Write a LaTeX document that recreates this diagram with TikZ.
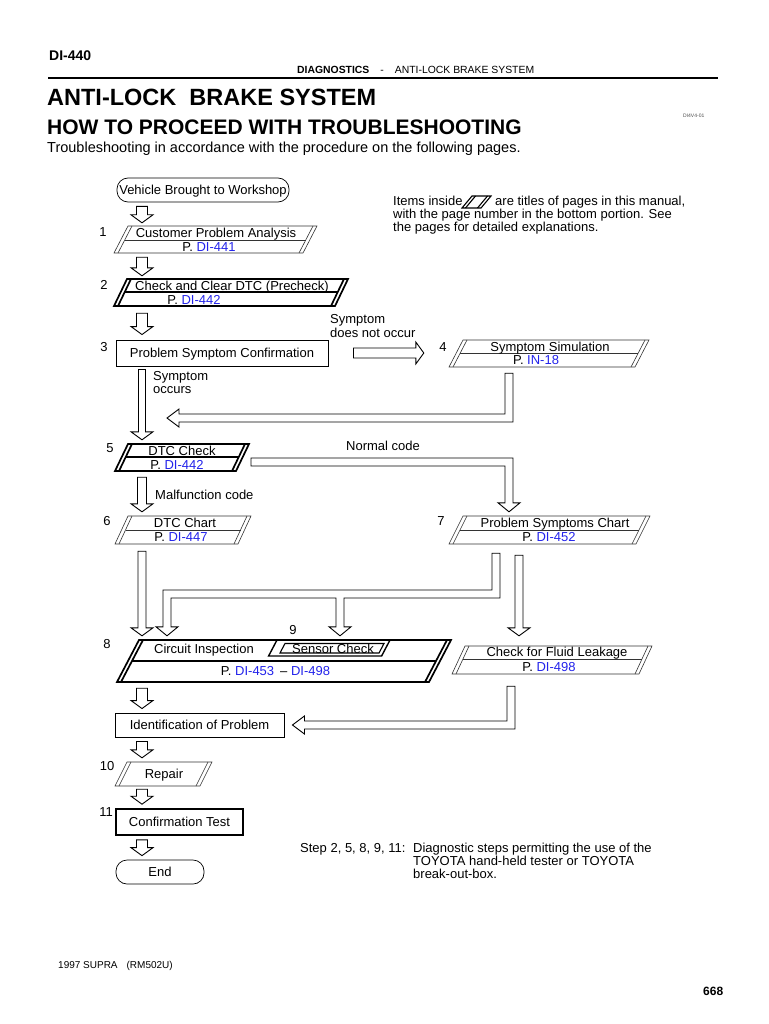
\documentclass[tikz,border=0pt]{standalone}
\usepackage{fontspec}
\setmainfont{Liberation Sans}
\usetikzlibrary{calc}
\definecolor{lnk}{RGB}{35,35,235}
\newcommand\fsz[1]{\fontsize{#1}{#1}\selectfont}
\newcommand\lk[1]{\textcolor{lnk}{#1}}
\def\dd{4}
% parallelogram page box: name, TLx, TRx, top y, bottom y, slant, style, divider y (0 = none)
\newcommand\pgbox[8]{%
 \node[inner sep=0pt, minimum width={(#3-#2+#6)*1pt}, minimum height={(#5-#4)*1pt}] (#1) at ({(#2+#3-#6)/2},{(#4+#5)/2}) {};
 \draw[#7] (#2,#4) -- (#3,#4) -- ({#3-#6},#5) -- ({#2-#6},#5) -- cycle;
 \draw[#7] ({#2+\dd},#4) -- ({#2-#6+\dd},#5);
 \draw[#7] ({#3-\dd},#4) -- ({#3-#6-\dd},#5);
 \ifnum#8>0\relax \draw[#7] ({#2+\dd-#6*(#8-#4)/(#5-#4)},#8) -- ({#3-\dd-#6*(#8-#4)/(#5-#4)},#8);\fi
}
% block arrow down: start, tip, shaft half, head half
\newcommand\blkd[4]{\draw[blk] let \p1=#1, \p2=#2 in (\x1-#3,\y1) -- (\x1-#3,\y2+8pt) -- (\x1-#4,\y2+8pt) -- (\x1,\y2) -- (\x1+#4,\y2+8pt) -- (\x1+#3,\y2+8pt) -- (\x1+#3,\y1) -- cycle;}
% block arrow right
\newcommand\blkr[2]{\draw[blk] let \p1=#1, \p2=#2 in (\x1,\y1+5pt) -- (\x2-8pt,\y1+5pt) -- (\x2-8pt,\y1+11pt) -- (\x2,\y1) -- (\x2-8pt,\y1-11pt) -- (\x2-8pt,\y1-5pt) -- (\x1,\y1-5pt) -- cycle;}
% down then left
\newcommand\blkLl[3]{\draw[blk] let \p1=#1, \p2=#2, \p3=#3 in (\x1-4pt,\y1) -- (\x1+4pt,\y1) -- (\x1+4pt,\y2-4pt) -- (\x3+12pt,\y2-4pt) -- (\x3+12pt,\y2-9pt) -- (\x3,\y2) -- (\x3+12pt,\y2+9pt) -- (\x3+12pt,\y2+4pt) -- (\x1-4pt,\y2+4pt) -- cycle;}
% right then down
\newcommand\blkLd[3]{\draw[blk] let \p1=#1, \p2=#2, \p3=#3 in (\x1,\y1+4pt) -- (\x2+4pt,\y1+4pt) -- (\x2+4pt,\y3+9pt) -- (\x2+11pt,\y3+9pt) -- (\x2,\y3) -- (\x2-11pt,\y3+9pt) -- (\x2-4pt,\y3+9pt) -- (\x2-4pt,\y1-4pt) -- (\x1,\y1-4pt) -- cycle;}
\begin{document}
\begin{tikzpicture}[x=1pt,y=-1pt,
  every node/.style={inner sep=0pt,font=\fsz{13},text height=9.3pt,text depth=0pt},
  thinln/.style={line width=0.6pt,draw=black!80},
  boldln/.style={line width=1.7pt,draw=black},
  blk/.style={draw=black,line width=0.9pt,fill=white,line join=miter},
  startbox/.style={draw,line width=0.7pt,rounded corners=11pt,minimum height=24pt},
  rectbox/.style={draw,line width=0.9pt},
  hd/.style={anchor=base west,text height=,text depth=}]
\fill[white] (0,0) rectangle (768,1024);
\useasboundingbox (0,0) rectangle (768,1024);
% ---------- header
\node[hd,font=\bfseries\fsz{14}] (pgno) at (49,61) {DI-440};
\node[hd,font=\fsz{10.4}] (hdr) at (297,73.7) {\textbf{DIAGNOSTICS}\hspace{11pt}-\hspace{11pt}ANTI-LOCK BRAKE SYSTEM};
\coordinate (ruleA) at (48,78); \coordinate (ruleB) at (718,78);
\draw[line width=2.3pt] (ruleA) -- (ruleB);
\node[hd,font=\bfseries\fsz{23.5}] (title) at (47,106) {ANTI-LOCK\ \ BRAKE SYSTEM};
\node[hd,font=\fsz{5},text=black!70] (code) at (683,118) {DI4V4-01};
\node[hd,font=\bfseries\fsz{21}] (sub) at (47,135) {HOW TO PROCEED WITH TROUBLESHOOTING};
\node[hd,font=\fsz{14.5}] (intro) at (47,153) {Troubleshooting in accordance with the procedure on the following pages.};
% ---------- columns / free points
\coordinate (cL) at (142,0);
\coordinate (cR) at (509,0);
\coordinate (cF) at (519,0);
\coordinate (cF2) at (511,0);
\coordinate (cT) at (496,594);
\coordinate (cC) at (167,0);
\coordinate (cS) at (340,0);
\coordinate (r4c) at (509,418); \coordinate (r4t) at (167,418);
\coordinate (nc0) at (251,462); \coordinate (nc1) at (509,462);
% ---------- legend
\node[anchor=west] (lg1) at (393,201) {Items inside};
\draw[line width=1.1pt] (472,196) -- (491,196) -- (481,208) -- (462,208) -- cycle;
\draw[line width=1.1pt] (475.5,196) -- (465.5,208);
\draw[line width=1.1pt] (487.5,196) -- (477.5,208);
\node[anchor=west] (lg1b) at (495,201) {are titles of pages in this manual,};
\node[anchor=west] (lg2) at (393,214) {with the page number in the bottom portion. See};
\node[anchor=west] (lg3) at (393,227) {the pages for detailed explanations.};
% ---------- start
\node[startbox,minimum width=172pt] (start) at (203,190) {Vehicle Brought to Workshop};
% step 1
\node (n1) at (103,232) {1};
\pgbox{s1}{128}{317}{226}{253}{14}{thinln}{240}
\node (s1a) at (216,233) {Customer Problem Analysis};
\node (s1b) at (209,247) {P. \lk{DI-441}};
% step 2
\node (n2) at (104,285) {2};
\pgbox{s2}{127}{348}{279}{306}{13}{boldln}{292}
\node (s2a) at (232,286) {Check and Clear DTC (Precheck)};
\node (s2b) at (194,300) {P. \lk{DI-442}};
% step 3
\node (n3) at (104,347) {3};
\node[rectbox,minimum width=212pt,minimum height=26pt] (p3) at (222,353) {Problem Symptom Confirmation};
\node[anchor=west] (sn1) at (330,319) {Symptom};
\node[anchor=west] (sn2) at (330,333) {does not occur};
% step 4
\node (n4) at (443,347) {4};
\pgbox{s4}{463}{649}{340}{367}{14}{thinln}{353}
\node (s4a) at (550,346.5) {Symptom Simulation};
\node (s4b) at (536,360) {P. \lk{IN-18}};
% step 5
\node (n5) at (110,448) {5};
\pgbox{s5}{128}{249}{444}{471}{13}{boldln}{457}
\node (s5a) at (182,451) {DTC Check};
\node (s5b) at (177,465) {P. \lk{DI-442}};
\node[anchor=west] (so1) at (153,376) {Symptom};
\node[anchor=west] (so2) at (153,389) {occurs};
\node (nc) at (383,446) {Normal code};
\node[anchor=west] (mc) at (155,495) {Malfunction code};
% step 6
\node (n6) at (107,521) {6};
\pgbox{s6}{128}{251}{516}{544}{13}{thinln}{530}
\node (s6a) at (185,523) {DTC Chart};
\node (s6b) at (181,537) {P. \lk{DI-447}};
% step 7
\node (n7) at (441,521) {7};
\pgbox{s7}{463}{650}{516}{544}{14}{thinln}{530}
\node (s7a) at (555,523) {Problem Symptoms Chart};
\node (s7b) at (549,537) {P. \lk{DI-452}};
% step 8 / 9
\node (n8) at (107,644) {8};
\node (n9) at (293,630) {9};
\node[minimum width=334pt,minimum height=42pt] (s8) at (284,661) {};
\node[minimum width=121pt,minimum height=16pt] (s9) at (329,648) {};
\draw[boldln] (139,640) -- (451,640) -- (429,682) -- (117,682) -- cycle;
\draw[boldln] (143,640) -- (121,682);
\draw[boldln] (447,640) -- (425,682);
\draw[boldln] (132,661) -- (436,661);
\draw[line width=1.4pt] (277,640) -- (390,640) -- (381.6,656) -- (268.6,656) -- cycle;
\draw[line width=1.1pt] (285,643.5) -- (384,643.5) -- (379,653) -- (280,653) -- cycle;
\node (s8a) at (204,649) {Circuit Inspection};
\node (s9a) at (333,648.5) {Sensor Check};
\node (s8b) at (275.5,671) {P. \lk{DI-453}\hspace{6pt}– \lk{DI-498}};
% fluid leakage
\pgbox{sf}{465}{652}{646}{674}{13}{thinln}{659}
\node (sfa) at (557,652) {Check for Fluid Leakage};
\node (sfb) at (549,667) {P. \lk{DI-498}};
% identification etc
\node[rectbox,minimum width=169pt,minimum height=24pt] (id) at (199.5,725) {Identification of Problem};
\node (n10) at (107,766) {10};
\pgbox{rep}{127}{212}{762}{786}{12}{thinln}{0}
\node (repa) at (164,774) {Repair};
\node (n11) at (106,812) {11};
\node[draw,line width=1.6pt,minimum width=127pt,minimum height=26pt] (ct) at (179.5,822) {Confirmation Test};
\node[startbox,minimum width=88pt] (endn) at (160,872) {End};
% footnote
\node[anchor=west] (fnA) at (300,848) {Step 2, 5, 8, 9, 11:};
\node[anchor=west] (fnB) at (413,848) {Diagnostic steps permitting the use of the};
\node[anchor=west] (fnC) at (413,861) {TOYOTA hand-held tester or TOYOTA};
\node[anchor=west] (fnD) at (413,873.5) {break-out-box.};
% footer
\node[hd,font=\fsz{10}] (ft) at (58,968) {1997 SUPRA\hspace{9pt}(RM502U)};
\node[hd,font=\bfseries\fsz{12}] (pg) at (703,995) {668};
% ---------- block arrows
\blkd{($(cL |- start.south)+(0,4)$)}{($(cL |- s1.north)+(0,-3)$)}{5.5pt}{11pt}
\blkd{($(cL |- s1.south)+(0,4)$)}{($(cL |- s2.north)+(0,-3)$)}{5.5pt}{11pt}
\blkd{($(cL |- s2.south)+(0,7)$)}{($(cL |- p3.north)+(0,-5)$)}{5.5pt}{11pt}
\blkr{($(p3.east)+(25,0)$)}{($(s4.west |- p3.east)+(-25,0)$)}
\blkd{($(cL |- p3.south)+(0,3)$)}{($(cL |- s5.north)+(0,-4)$)}{3.5pt}{11pt}
\blkLl{($(cR |- s4.south)+(0,6)$)}{(r4c)}{(r4t)}
\blkLd{(nc0)}{(nc1)}{($(cR |- s7.north)+(0,-4)$)}
\blkd{($(cL |- s5.south)+(0,6)$)}{($(cL |- s6.north)+(0,-4)$)}{4.5pt}{11pt}
\blkd{($(cL |- s6.south)+(0,7)$)}{($(cL |- s8.north)+(0,-4)$)}{4pt}{11pt}
\draw[blk] let \p1=($(cT |- s7.south)+(0,9)$), \p2=(cT), \p3=($(cC |- s8.north)+(0,-4)$), \p4=($(cS |- s9.north)+(0,-4)$) in
 (\x1-4pt,\y1) -- (\x1+4pt,\y1) -- (\x1+4pt,\y2-4pt) -- (\x4+4pt,\y2-4pt) -- (\x4+4pt,\y4+9pt) -- (\x4+11pt,\y4+9pt) -- (\x4,\y4) -- (\x4-11pt,\y4+9pt) -- (\x4-4pt,\y4+9pt) -- (\x4-4pt,\y2-4pt) -- (\x3+4pt,\y2-4pt) -- (\x3+4pt,\y3+9pt) -- (\x3+11pt,\y3+9pt) -- (\x3,\y3) -- (\x3-11pt,\y3+9pt) -- (\x3-4pt,\y3+9pt) -- (\x3-4pt,\y2+4pt) -- (\x1-4pt,\y2+4pt) -- cycle;
\blkd{($(cF |- s7.south)+(0,11)$)}{($(cF |- sf.north)+(0,-10)$)}{4pt}{11pt}
\blkLl{($(cF2 |- sf.south)+(0,12)$)}{(cF2 |- id.east)}{($(id.east)+(8,0)$)}
\blkd{($(cL |- s8.south)+(0,6)$)}{($(cL |- id.north)+(0,-4)$)}{5.5pt}{11pt}
\blkd{($(cL |- id.south)+(0,4)$)}{($(cL |- rep.north)+(0,-4)$)}{5.5pt}{11pt}
\blkd{($(cL |- rep.south)+(0,3)$)}{($(cL |- ct.north)+(0,-4)$)}{5.5pt}{11pt}
\blkd{($(cL |- ct.south)+(0,4)$)}{($(cL |- endn.north)+(0,-4)$)}{5.5pt}{11pt}
\end{tikzpicture}
\end{document}
